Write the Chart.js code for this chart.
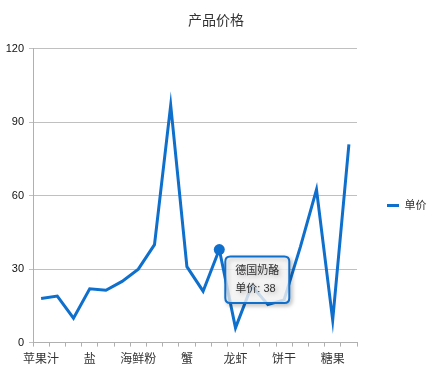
<!DOCTYPE html>
<html>
<head>
<meta charset="utf-8">
<script src="https://cdn.jsdelivr.net/npm/chart.js@4/dist/chart.umd.min.js"></script>
<style>
  html, body { margin: 0; padding: 0; background: #fff; }
  #wrap { width: 432px; height: 381px; }
</style>
</head>
<body>
<div id="wrap"><canvas id="priceChart"></canvas></div>
<script>
// ── DATA ──
const products = ['苹果汁','牛奶','蕃茄酱','盐','麻油','酱油','海鲜粉','胡椒粉','鸡','蟹',
                  '民众奶酪','德国奶酪','龙虾','沙茶','味精','饼干','猪肉','墨鱼','糖果','桂花糕'];
const prices   = [18, 19, 10, 22, 21.35, 25, 30, 40, 97, 31,
                  21, 38, 6, 23.25, 15.5, 17.45, 39, 62.5, 9.2, 81];
const yTicks   = [0, 30, 60, 90, 120];
const seriesName = '单价';
const activeIndex = 11;

const blue = '#0f6fcc';
const font = "'Liberation Sans', 'Noto Sans CJK SC', sans-serif";

// tooltip sits just right/below the hovered point
Chart.Tooltip.positioners.nearPoint = function (elements) {
    if (!elements.length) return false;
    const el = elements[0].element;
    return { x: el.x + 11, y: el.y + 7 };
};

const shadowPlugin = {
    id: 'tipShadow',
    beforeTooltipDraw(chart) {
        const ctx = chart.ctx;
        ctx.save();
        ctx.shadowColor = 'rgba(0,0,0,0.25)';
        ctx.shadowBlur = 4;
        ctx.shadowOffsetX = 2;
        ctx.shadowOffsetY = 2;
    },
    afterTooltipDraw(chart) {
        chart.ctx.restore();
    }
};

// fixed legend column width + a small downward nudge
const legendBoxPlugin = {
    id: 'legendBox',
    beforeUpdate(chart) {
        const lg = chart.legend;
        if (!lg || lg._patched) return;
        const fit = lg.fit.bind(lg);
        const draw = lg.draw.bind(lg);
        lg.fit = function () { fit(); this.width = 75; };
        lg.draw = function () {
            chart.ctx.save();
            chart.ctx.translate(0, 19);
            draw();
            chart.ctx.restore();
        };
        lg._patched = true;
    }
};

const chart = new Chart(document.getElementById('priceChart'), {
    type: 'line',
    data: {
        labels: products,
        datasets: [{
            label: seriesName,
            data: prices,
            borderColor: blue,
            backgroundColor: blue,
            borderWidth: 3,
            tension: 0,
            pointRadius: 0,
            pointHoverRadius: 5.5,
            pointHoverBorderWidth: 0,
            pointHoverBackgroundColor: blue,
        }]
    },
    plugins: [shadowPlugin, legendBoxPlugin],
    options: {
        responsive: true,
        maintainAspectRatio: false,
        animation: false,
        events: [],
        layout: { padding: { left: 0, right: 0, top: 0, bottom: 8 } },
        plugins: {
            title: {
                display: true,
                text: '产品价格',
                color: '#333',
                font: { family: font, size: 14, weight: 'normal' },
                padding: { top: 13, bottom: 19 }
            },
            legend: {
                position: 'right',
                labels: {
                    usePointStyle: true,
                    pointStyle: 'line',
                    pointStyleWidth: 12,
                    boxWidth: 12,
                    color: '#333',
                    font: { family: font, size: 11 },
                    padding: 30
                }
            },
            tooltip: {
                position: 'nearPoint',
                xAlign: 'left',
                yAlign: 'top',
                caretSize: 0,
                caretPadding: 0,
                cornerRadius: 5,
                backgroundColor: 'rgba(255,255,255,0.78)',
                borderColor: blue,
                borderWidth: 2,
                titleColor: '#333',
                bodyColor: '#333',
                titleFont: { family: font, size: 11, weight: 'normal' },
                bodyFont: { family: font, size: 11 },
                titleMarginBottom: 5,
                padding: { left: 10, right: 10, top: 8, bottom: 7 },
                displayColors: false,
                callbacks: {
                    label: ctx => ctx.dataset.label + ': ' + ctx.parsed.y
                }
            }
        },
        scales: {
            x: {
                offset: true,
                grid: { offset: true, drawOnChartArea: false, tickLength: 4, color: '#b0b0b0' },
                border: { color: '#b0b0b0' },
                ticks: {
                    autoSkip: false,
                    maxRotation: 0,
                    padding: 6,
                    color: '#333',
                    font: { family: font, size: 12 },
                    callback: (v, i) => (i % 3 === 0 ? products[i] : '')
                }
            },
            y: {
                min: 0,
                max: 120,
                afterBuildTicks: s => { s.ticks = yTicks.map(v => ({ value: v })); },
                afterFit: s => { s.width = 33; },
                grid: { color: '#c0c0c0', tickLength: 4 },
                border: { color: '#b0b0b0' },
                ticks: {
                    padding: 5,
                    color: '#111',
                    font: { family: font, size: 11 }
                }
            }
        }
    }
});

chart.setActiveElements([{ datasetIndex: 0, index: activeIndex }]);
chart.tooltip.setActiveElements([{ datasetIndex: 0, index: activeIndex }], { x: 0, y: 0 });
chart.update();
</script>
</body>
</html>
